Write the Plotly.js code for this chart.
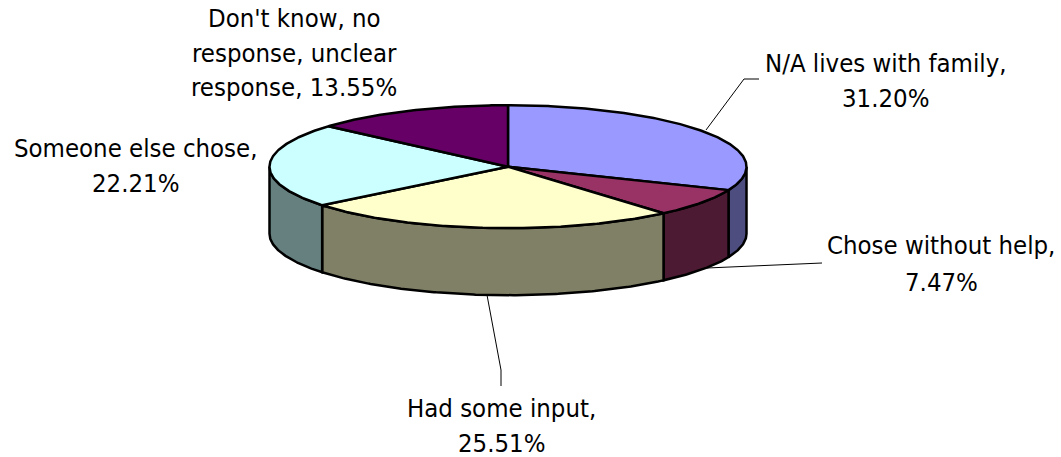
<!DOCTYPE html>
<html>
<head>
<meta charset="utf-8">
<script src="https://cdn.plot.ly/plotly-3.0.1.min.js"></script>
<style>html,body{margin:0;padding:0;background:#fff}#chart{width:1061px;height:457px}</style>
</head>
<body>
<div id="chart"></div>
<script>
// Data
const categories = ["N/A lives with family", "Chose without help", "Had some input", "Someone else chose", "Don't know, no response, unclear response"];
const shares = [31.20, 7.47, 25.51, 22.21, 13.55];
const topColors = ["#9999FF", "#993366", "#FFFFCC", "#CCFFFF", "#660066"];
const wallColors = ["#4D4D80", "#4D1A33", "#808066", "#668080", "#330033"];

// Label lines as they wrap in the reference: [text, x centre, y centre]
const labelLines = [
  ["N/A lives with family,", 885.5, 63], ["31.20%", 885.5, 98],
  ["Chose without help,", 941, 245], ["7.47%", 941, 282],
  ["Had some input,", 501, 408], ["25.51%", 501, 443],
  ["Someone else chose,", 135, 148], ["22.21%", 135, 183],
  ["Don't know, no", 294, 18], ["response, unclear", 294, 53], ["response, 13.55%", 294, 87]
];
const leaderX = [[706, 744, 759], [707, 822], [487, 501, 501]];
const leaderY = [[130, 79, 79], [268, 263], [295, 370, 386]];

// Projected pie geometry
const cx = 508, cy = 166.7, rx = 238.5, ry = 61.5, depth = 67;
const total = shares.reduce((a, b) => a + b, 0);
const px = t => cx + rx * Math.sin(t);
const py = t => cy - ry * Math.cos(t);
function arc(a, b) {
  const n = Math.max(2, Math.ceil((b - a) / 0.01)), out = [];
  for (let i = 0; i <= n; i++) out.push(a + (b - a) * i / n);
  return out;
}

const wallTraces = [], topTraces = [];
let start = 0;
shares.forEach((v, i) => {
  const end = start + v / total * 2 * Math.PI;
  // Top face of the wedge
  const ts = arc(start, end);
  topTraces.push({
    type: "scatter", mode: "lines", name: categories[i], fill: "toself", fillcolor: topColors[i],
    x: [cx, ...ts.map(px), cx], y: [cy, ...ts.map(py), cy],
    line: {color: "#000", width: 2.5}, hoverinfo: "name", showlegend: false
  });
  // Front-facing side wall, only where the rim faces the viewer
  const a = Math.max(start, Math.PI / 2), b = Math.min(end, 3 * Math.PI / 2);
  if (b > a) {
    const ws = arc(a, b), back = ws.slice().reverse();
    wallTraces.push({
      type: "scatter", mode: "lines", name: categories[i], fill: "toself", fillcolor: wallColors[i],
      x: [...ws.map(px), ...back.map(px), px(a)],
      y: [...ws.map(py), ...back.map(t => py(t) + depth), py(a)],
      line: {color: "#000", width: 2.5}, hoverinfo: "name", showlegend: false
    });
  }
  start = end;
});

const leaderTraces = leaderX.map((xs, i) => ({
  type: "scatter", mode: "lines", x: xs, y: leaderY[i],
  line: {color: "#000", width: 1}, hoverinfo: "skip", showlegend: false
}));

const fontFamily = "'DejaVu Sans Condensed', 'DejaVu Sans', sans-serif";
const annotations = labelLines.map(([text, x, y]) => ({
  text, x, y, xref: "x", yref: "y", xanchor: "center", yanchor: "middle",
  showarrow: false, font: {family: fontFamily, size: 25.5, color: "#000"}
}));

Plotly.newPlot("chart", [...leaderTraces, ...wallTraces, ...topTraces], {
  width: 1061, height: 457, margin: {l: 0, r: 0, t: 0, b: 0},
  paper_bgcolor: "#fff", plot_bgcolor: "#fff", showlegend: false,
  xaxis: {range: [0, 1061], visible: false, fixedrange: true},
  yaxis: {range: [457, 0], visible: false, fixedrange: true},
  annotations
}, {displayModeBar: false, staticPlot: true});
</script>
</body>
</html>
